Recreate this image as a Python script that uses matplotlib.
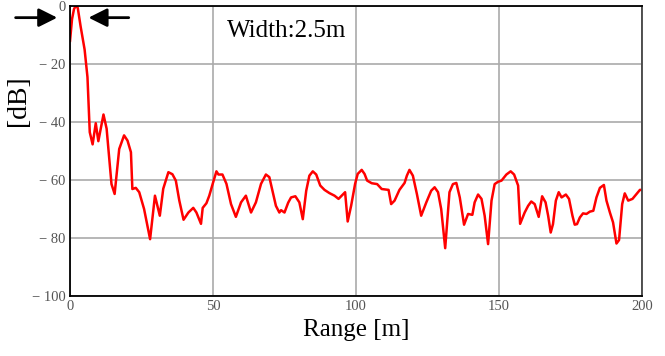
import matplotlib.pyplot as plt

# range profile
range_m = [0, 0.7, 1.4, 2.0, 2.7, 3.7, 5.1, 6.1, 6.9, 7.9, 9.0, 9.9, 11.7, 12.8,
           14.5, 15.6,
           17.2, 18.9, 20.1, 21.3, 21.8, 23.0, 24.2, 25.9, 28.0, 29.7, 31.4, 32.6,
           34.4, 35.8, 37.0, 38.2, 39.7, 41.4, 43.1, 44.2, 45.8, 46.4, 47.7, 48.7,
           49.9, 51.2, 51.9, 53.3, 54.7, 56.3, 58.0, 59.8, 61.5, 63.3, 65.0, 66.8,
           68.5, 69.7, 70.9, 72.0, 73.2, 73.8, 75.0, 76.3, 77.3, 78.8, 80.2, 81.4,
           82.6, 83.7, 84.9, 86.1, 87.5, 89.0, 90.7, 92.5, 93.9, 95.0, 96.2, 97.1,
           98.3, 99.7, 100.6, 102.0, 103.0, 103.9, 105.5, 107.4, 109.0, 111.4,
           112.3, 113.5, 115.2, 117.0, 117.8, 118.7, 119.9, 121.3, 122.8, 124.6,
           126.3, 127.5, 128.7, 129.8, 131.2, 132.7, 133.9, 135.1, 136.3, 137.8,
           139.2, 140.7, 141.5, 142.7, 143.9, 145.0, 146.2, 147.4, 148.5, 149.7,
           150.9, 152.6, 154.1, 155.3, 156.7, 157.4, 159.0, 160.2, 161.3, 162.5,
           163.9, 165.1, 166.3, 167.2, 168.1, 168.9, 169.9, 170.9, 171.9, 173.4,
           174.5, 175.7, 176.5, 177.3, 178.3, 179.4, 180.6, 181.8, 183.0, 184.1,
           185.3, 186.7, 187.6, 188.8, 189.9, 191.1, 192.0, 193.1, 194.0, 195.2,
           196.7, 198.1, 199.3, 200]
level_db = [-12, -4.5, -1, 0, -0.6, -7, -15, -24.5, -43.5, -47.7, -40.4, -46.6,
            -37.4, -42.3,
            -61.4, -64.8, -49.3, -44.6, -46.4, -50.4, -63.1, -62.7, -64.2, -70,
            -80.4, -65.4, -72.3, -63, -57.3, -58, -60.2, -67, -73.7, -71.2, -69.6,
            -71.2, -75.1, -69.6, -68, -65.4, -61.3, -57, -58.1, -58.1, -61.3,
            -68.3, -72.7, -67.7, -65.4, -71.2, -67.7, -61.3, -58.1, -59, -64.2,
            -68.9, -71.2, -70.4, -71.2, -67.8, -66, -65.6, -67.7, -73.5, -63.7,
            -58.5, -57, -58.1, -61.9, -63.4, -64.5, -65.4, -66.5, -65.4, -64.2,
            -74.3, -68.9, -61.3, -57.9, -56.5, -57.9, -60.2, -61.1, -61.4, -63.1,
            -63.4, -68.3, -67.1, -63.4, -61, -58.5, -56.5, -58.5, -64.8, -72.3,
            -67.7, -63.7, -62.5, -64.2, -70, -83.5, -64.2, -61.4, -61, -66, -75.4,
            -71.7, -72, -67.7, -65, -66.5, -72.3, -82.1, -67.1, -61.4, -60.6,
            -60.2, -58.1, -57, -58.1, -61.9, -75.1, -71.2, -68.9, -67.4, -68.3,
            -72.7, -65.6, -67.7, -72.3, -78.1, -75.2, -67.1, -64.2, -66, -65,
            -66.5, -72.3, -75.4, -75.2, -72.9, -71.5, -71.7, -70.9, -70.6, -66,
            -62.7, -61.7, -67.1, -71.2, -74.6, -81.9, -80.7, -68.3, -64.6, -67.1,
            -66.5, -64.8, -63.4, -63.4]

x_ticks = [0, 50, 100, 150, 200]
y_ticks = [0, -20, -40, -60, -80, -100]
y_labels = ['0', '\u2212 20', '\u2212 40', '\u2212 60', '\u2212 80', '\u2212 100']

plt.rcParams['font.family'] = ['Liberation Serif', 'DejaVu Serif']

fig = plt.figure(figsize=(6.65, 3.56), dpi=100)
ax = fig.add_axes([0.1053, 0.1685, 0.86, 0.8145])

ax.plot(range_m, level_db, color='red', lw=1.8)

ax.set_xlim(0, 200)
ax.set_ylim(-100, 0)
ax.set_xticks(x_ticks)
ax.set_yticks(y_ticks)
ax.set_yticklabels(y_labels)
ax.tick_params(length=0, labelsize=10.5, labelcolor='#555555', pad=3)
ax.grid(True, color='#aaaaaa', lw=1.2)
for s in ax.spines.values():
    s.set_linewidth(1.3)
ax.spines['right'].set_color('#444444')

ax.set_xlabel('Range [m]', fontsize=18, labelpad=4)
ax.set_ylabel('[dB]', fontsize=20)
ax.yaxis.set_label_coords(-0.068, 0.675)

ax.text(55, -8.5, 'Width:2.5m', fontsize=18, va='center', ha='left')

arrow = dict(arrowstyle='-|>', mutation_scale=28, lw=2, color='black')
ax.annotate('', xy=(-3.5, -4), xytext=(-20, -4), arrowprops=arrow,
            annotation_clip=False)
ax.annotate('', xy=(5.5, -4), xytext=(21.5, -4), arrowprops=arrow,
            annotation_clip=False)

fig.savefig('out.png', dpi=100)
